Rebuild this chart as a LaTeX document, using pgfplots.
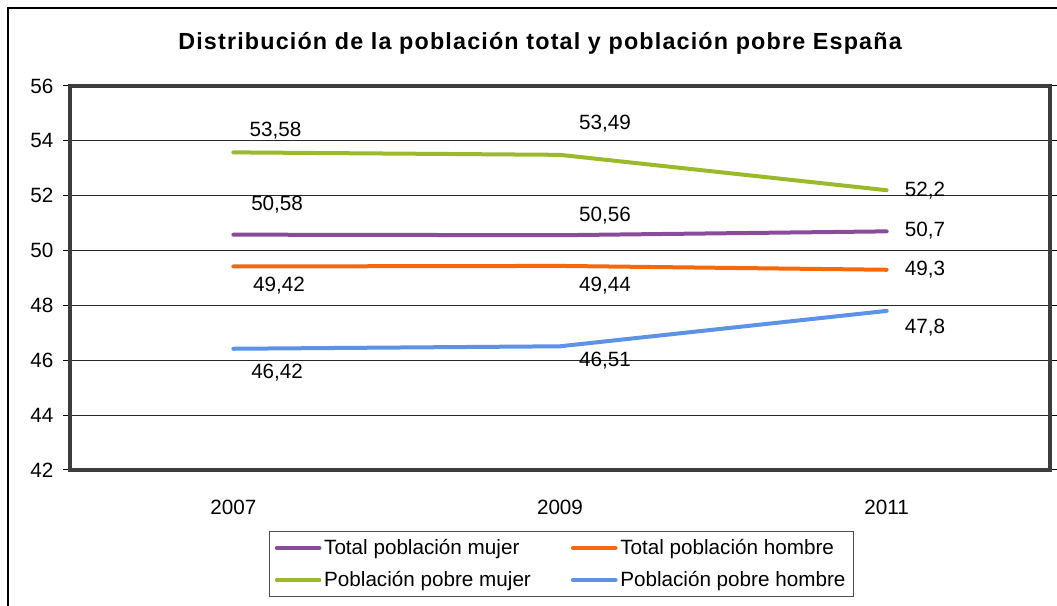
\documentclass[border=0pt]{standalone}
\usepackage{fontspec}
\setmainfont{Liberation Sans}
\usepackage{pgfplots}
\pgfplotsset{compat=1.18}
\definecolor{cMujer}{HTML}{8A4C9A}
\definecolor{cHombre}{HTML}{F5690C}
\definecolor{cPobreM}{HTML}{9AB92B}
\definecolor{cPobreH}{HTML}{5C93E6}
\definecolor{frameGrey}{HTML}{3C3C3C}
\newcommand{\lbl}{\fontsize{15.5}{18}\selectfont}
\begin{document}
\begin{tikzpicture}
% 1 px of the reference = 0.75pt
\path[use as bounding box] (0,0) rectangle (792.75pt,454.5pt);
\draw[line width=1.5pt] (6pt,-2pt) -- (6pt,448.5pt) -- (795pt,448.5pt);
\node[font=\fontsize{17.5}{20}\selectfont\bfseries\addfontfeature{LetterSpace=5}] at (405pt,422.25pt)
  {Distribución de la población total y población pobre España};
\begin{axis}[
  scale only axis, width=735pt, height=288pt,
  at={(52.5pt,102pt)}, anchor=south west,
  xmin=-0.5, xmax=2.5, ymin=42, ymax=56,
  clip=false,
  xtick={0,1,2}, xticklabels={2007,2009,2011},
  ytick={42,44,...,56},
  ymajorgrids, grid style={black!85, line width=0.75pt},
  axis line style={draw=none},
  x tick style={draw=none},
  y tick style={black, line width=0.75pt},
  tick align=outside, major tick length=5pt,
  tick label style={font=\lbl},
  xticklabel style={anchor=center, text depth=0pt, yshift=-23.25pt},
  yticklabel style={xshift=-4pt},
  /pgf/number format/assume math mode=true,
  every axis plot/.append style={line width=3pt, line cap=round},
  legend columns=2,
  legend style={at={(0.5015,-0.245)}, anchor=center, font=\lbl,
    draw=black!70, line width=0.75pt, inner xsep=4pt, inner ysep=4pt,
    /tikz/every even column/.append style={column sep=28pt},
    row sep=7pt},
  legend cell align=left,
  legend image code/.code={\draw[line width=3pt, line cap=round] (0pt,0pt) -- (32pt,0pt);},
]
\addplot[cMujer] coordinates {(0,50.58) (1,50.56) (2,50.7)};
\addlegendentry{Total población mujer}
\addplot[cHombre] coordinates {(0,49.42) (1,49.44) (2,49.3)};
\addlegendentry{Total población hombre}
\addplot[cPobreM] coordinates {(0,53.58) (1,53.49) (2,52.2)};
\addlegendentry{Población pobre mujer}
\addplot[cPobreH] coordinates {(0,46.42) (1,46.51) (2,47.8)};
\addlegendentry{Población pobre hombre}
% plot frame
\draw[frameGrey, line width=2.4pt] (rel axis cs:0,0) rectangle (rel axis cs:1,1);
% data labels
\begin{scope}[every node/.style={font=\lbl, text depth=0pt}]
\node at (axis cs:0.129,54.43) {53,58};
\node at (axis cs:1.138,54.69) {53,49};
\node at (axis cs:2.117,52.245) {52,2};
\node at (axis cs:0.134,51.73) {50,58};
\node at (axis cs:1.138,51.33) {50,56};
\node at (axis cs:2.117,50.79) {50,7};
\node at (axis cs:0.140,48.78) {49,42};
\node at (axis cs:1.138,48.78) {49,44};
\node at (axis cs:2.117,49.365) {49,3};
\node at (axis cs:0.134,45.61) {46,42};
\node at (axis cs:1.138,46.05) {46,51};
\node at (axis cs:2.117,47.25) {47,8};
\end{scope}
\end{axis}
\end{tikzpicture}
\end{document}
